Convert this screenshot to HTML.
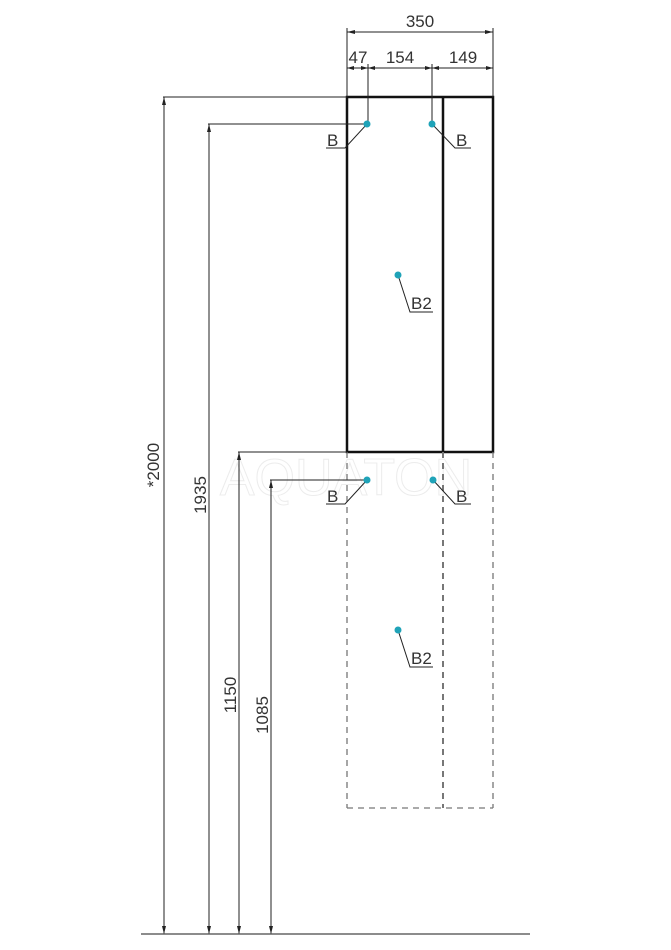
<!DOCTYPE html>
<html><head><meta charset="utf-8"><style>html,body{margin:0;padding:0;background:#fff}svg{display:block}</style></head>
<body>
<svg width="671" height="950" viewBox="0 0 671 950" xmlns="http://www.w3.org/2000/svg" font-family="Liberation Sans, sans-serif" fill="none">
<text x="346" y="495" font-size="52" fill="none" stroke="#ececec" stroke-width="1" text-anchor="middle" font-family="Liberation Sans, sans-serif">AQUATON</text>
<rect x="347" y="97" width="146" height="355" stroke="#111" stroke-width="2.5"/>
<line x1="443" y1="97" x2="443" y2="452" stroke="#111" stroke-width="2.5"/>
<g stroke="#777" stroke-width="1.3" stroke-dasharray="6,5">
<line x1="347" y1="452" x2="347" y2="808"/>
<line x1="493" y1="452" x2="493" y2="808"/>
<line x1="443" y1="452" x2="443" y2="808" stroke-width="2"/>
<line x1="347" y1="808" x2="493" y2="808"/>
</g>
<g stroke="#222" stroke-width="1">
<line x1="163" y1="97" x2="347" y2="97"/>
<line x1="208" y1="124" x2="367" y2="124"/>
<line x1="238" y1="452" x2="347" y2="452"/>
<line x1="270" y1="480" x2="367" y2="480"/>
<line x1="164" y1="97" x2="164" y2="934"/>
<line x1="209" y1="124" x2="209" y2="934"/>
<line x1="239" y1="452" x2="239" y2="934"/>
<line x1="271" y1="480" x2="271" y2="934"/>
<line x1="141" y1="934" x2="530" y2="934" stroke="#666" stroke-width="1.5"/>
<line x1="347" y1="28" x2="347" y2="97"/>
<line x1="493" y1="28" x2="493" y2="97"/>
<line x1="347" y1="32" x2="493" y2="32"/>
<line x1="347" y1="68" x2="493" y2="68"/>
<line x1="368" y1="64" x2="368" y2="124"/>
<line x1="432" y1="64" x2="432" y2="124"/>
<polyline points="367,124 345,148 326,148"/>
<polyline points="432,124 455,148 471,148"/>
<polyline points="398,275 410,312 433,312"/>
<polyline points="367,480 345,504 326,504"/>
<polyline points="433,480 455,504 471,504"/>
<polyline points="398,630 410,667 433,667"/>
</g>
<g fill="#222">
<path d="M347,32 l8,-2 v4z"/><path d="M493,32 l-8,-2 v4z"/>
<path d="M347,68 l7,-2 v4z"/><path d="M368,68 l-7,-2 v4z"/><path d="M368,68 l7,-2 v4z"/>
<path d="M432,68 l-7,-2 v4z"/><path d="M432,68 l7,-2 v4z"/><path d="M493,68 l-7,-2 v4z"/>
<path d="M164,97 l-2,8 h4z"/><path d="M164,934 l-2,-8 h4z"/>
<path d="M209,124 l-2,8 h4z"/><path d="M209,934 l-2,-8 h4z"/>
<path d="M239,452 l-2,8 h4z"/><path d="M239,934 l-2,-8 h4z"/>
<path d="M271,480 l-2,8 h4z"/><path d="M271,934 l-2,-8 h4z"/>
</g>
<g fill="#1fa3b8">
<circle cx="367" cy="124" r="3.5"/><circle cx="432" cy="124" r="3.5"/><circle cx="398" cy="275" r="3.5"/>
<circle cx="367" cy="480" r="3.5"/><circle cx="433" cy="480" r="3.5"/><circle cx="398" cy="630" r="3.5"/>
</g>
<g fill="#333" font-size="17">
<text x="420" y="27" text-anchor="middle">350</text>
<text x="358" y="63" text-anchor="middle">47</text>
<text x="400" y="63" text-anchor="middle">154</text>
<text x="463" y="63" text-anchor="middle">149</text>
<text x="327" y="146">B</text>
<text x="456" y="146">B</text>
<text x="411" y="309">B2</text>
<text x="327" y="502">B</text>
<text x="456" y="502">B</text>
<text x="411" y="664">B2</text>
<text transform="translate(159,465) rotate(-90)" text-anchor="middle">*2000</text>
<text transform="translate(206,495) rotate(-90)" text-anchor="middle">1935</text>
<text transform="translate(236,695) rotate(-90)" text-anchor="middle">1150</text>
<text transform="translate(268,715) rotate(-90)" text-anchor="middle">1085</text>
</g>
</svg>
</body></html>
